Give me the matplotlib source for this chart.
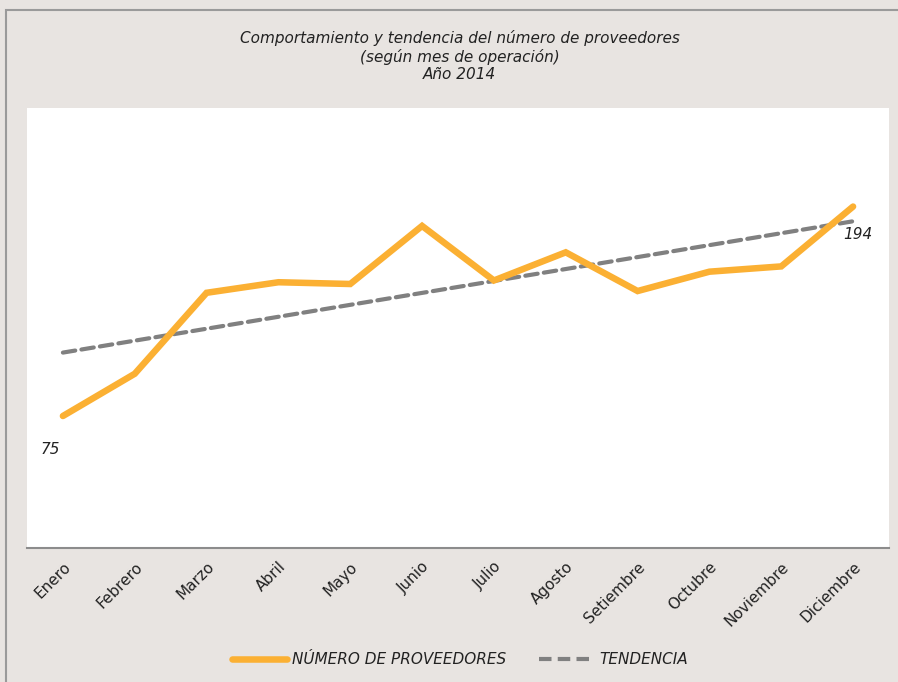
import numpy as np
import matplotlib.pyplot as plt
from matplotlib.lines import Line2D
from matplotlib.patches import Rectangle

# 数据
meses = ['Enero', 'Febrero', 'Marzo', 'Abril', 'Mayo', 'Junio', 'Julio',
         'Agosto', 'Setiembre', 'Octubre', 'Noviembre', 'Diciembre']
proveedores = [75, 99, 145, 151, 150, 183, 152, 168, 146, 157, 160, 194]

naranja = '#FBB033'
gris = '#808080'
fondo = '#E8E4E1'

plt.rcParams['font.family'] = 'DejaVu Sans'

fig = plt.figure(figsize=(8.98, 6.82), dpi=100)
fig.patch.set_facecolor(fondo)

# 边框
fig.patches.append(Rectangle((6 / 898, -0.05), 1.0, (682 - 10) / 682 + 0.05,
                             transform=fig.transFigure, fill=False,
                             edgecolor='#9A9A9A', linewidth=1.5))

ax = fig.add_axes([27 / 898, (682 - 548) / 682, 862 / 898, 440 / 682])
ax.set_facecolor('white')

x = np.arange(len(meses))
ax.plot(x, proveedores, color=naranja, linewidth=4.7, solid_capstyle='round',
        solid_joinstyle='miter', zorder=3)

# 趋势线
coef = np.polyfit(x, proveedores, 1)
tendencia = np.polyval(coef, x)
lt, = ax.plot(x, tendencia, color=gris, linewidth=3, zorder=2)
lt.set_dashes([3, 1.5])
lt.set_dash_capstyle('round')

ax.text(x[0] - 0.18, proveedores[0] - 19, str(proveedores[0]), fontsize=11,
        style='italic', ha='center', va='center', color='#222222')
ax.text(x[-1] + 0.06, proveedores[-1] - 16, str(proveedores[-1]), fontsize=11,
        style='italic', ha='center', va='center', color='#222222')

ax.set_xlim(-0.5, 11.5)
ax.set_ylim(0, 250)
ax.set_yticks([])
ax.set_xticks(x)
ax.set_xticklabels(meses, rotation=45, ha='right', rotation_mode='anchor',
                   fontsize=11, color='#222222')
ax.tick_params(axis='x', length=0, pad=8)
for s in ['top', 'left', 'right']:
    ax.spines[s].set_visible(False)
ax.spines['bottom'].set_color('#8C8C8C')
ax.spines['bottom'].set_linewidth(1.5)

fig.text(0.512, 1 - 56 / 682,
         'Comportamiento y tendencia del número de proveedores\n(según mes de operación)\nAño 2014',
         ha='center', va='center', fontsize=11, style='italic', color='#222222',
         linespacing=1.2)

h1 = Line2D([], [], color=naranja, linewidth=4.7, solid_capstyle='round')
h2 = Line2D([], [], color=gris, linewidth=3, dashes=[3, 1.5])
leg = fig.legend([h1, h2], ['NÚMERO DE PROVEEDORES', 'TENDENCIA'],
                 loc='center', bbox_to_anchor=(0.512, 1 - 660 / 682), ncol=2,
                 frameon=False, handlelength=3.6, columnspacing=2.2,
                 handletextpad=0.3, prop={'size': 11, 'style': 'italic'})
for t in leg.get_texts():
    t.set_color('#222222')

fig.savefig('out.png', dpi=100, facecolor=fondo)
